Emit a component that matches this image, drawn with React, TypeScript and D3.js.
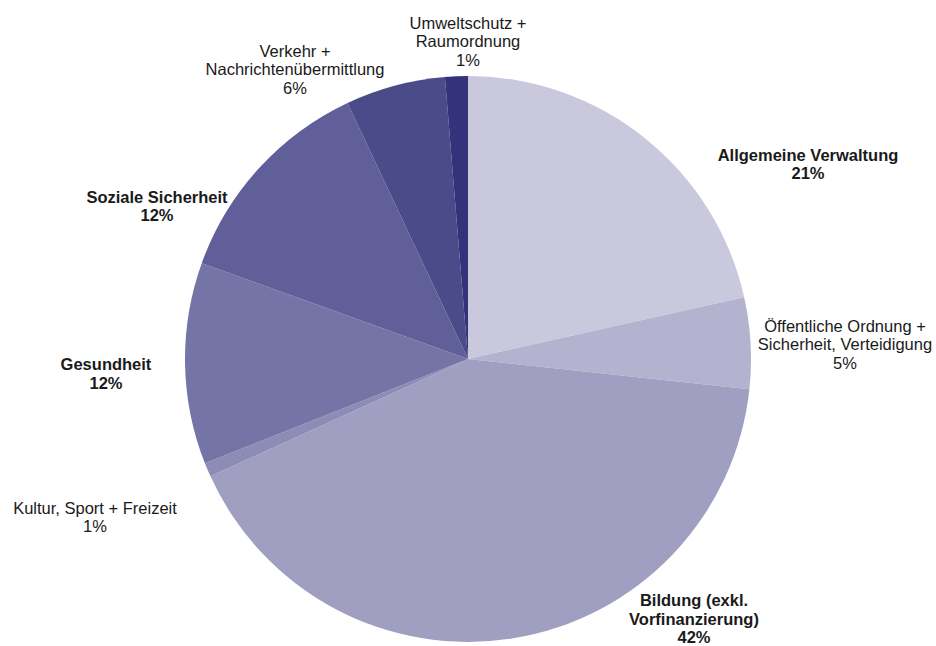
import React from "react";
import * as d3 from "d3";

const categories = [
  ["Allgemeine Verwaltung"],
  ["Öffentliche Ordnung +", "Sicherheit, Verteidigung"],
  ["Bildung (exkl.", "Vorfinanzierung)"],
  ["Kultur, Sport + Freizeit"],
  ["Gesundheit"],
  ["Soziale Sicherheit"],
  ["Verkehr +", "Nachrichtenübermittlung"],
  ["Umweltschutz +", "Raumordnung"],
];
const values = [21.5, 5.2, 41.5, 0.8, 11.5, 12.5, 5.7, 1.3];
const percentLabels = ["21%", "5%", "42%", "1%", "12%", "12%", "6%", "1%"];
const boldFlags = [true, false, true, false, true, true, false, false];
const colors = ["#c9c8dd", "#b3b2cf", "#a09fc2", "#8d8cb6", "#7574a6", "#605f99", "#4c4b8a", "#33327a"];

// label centre positions (x, first baseline y)
const labelPos: [number, number][] = [
  [808, 160.5],
  [845, 331.5],
  [694, 606],
  [95, 513.5],
  [106, 370],
  [157, 202.5],
  [295, 56.5],
  [468, 28.5],
];

const W = 936, H = 646;
const cx = 468, cy = 359, R = 283;
const lineGap = 18.6;

export default function App() {
  const pie = d3.pie<number>().sort(null).value((d) => d).startAngle(0).endAngle(2 * Math.PI);
  const arcs = pie(values);
  const arc = d3.arc<d3.PieArcDatum<number>>().innerRadius(0).outerRadius(R);
  return (
    <svg width={W} height={H} style={{ position: "absolute", left: 0, top: 0, background: "#fff" }}
      fontFamily="'Liberation Sans', Arial, sans-serif" fontSize={16.5}>
      <g transform={`translate(${cx},${cy})`}>
        {arcs.map((a, i) => (
          <path key={i} d={arc(a) || ""} fill={colors[i]} />
        ))}
      </g>
      {categories.map((lines, i) => {
        const [x, y] = labelPos[i];
        const all = [...lines, percentLabels[i]];
        return (
          <text key={i} x={x} y={y} textAnchor="middle" fill="#1a1a1a" fontWeight={boldFlags[i] ? "bold" : "normal"}>
            {all.map((t, j) => (
              <tspan key={j} x={x} dy={j === 0 ? 0 : lineGap}>{t}</tspan>
            ))}
          </text>
        );
      })}
    </svg>
  );
}
